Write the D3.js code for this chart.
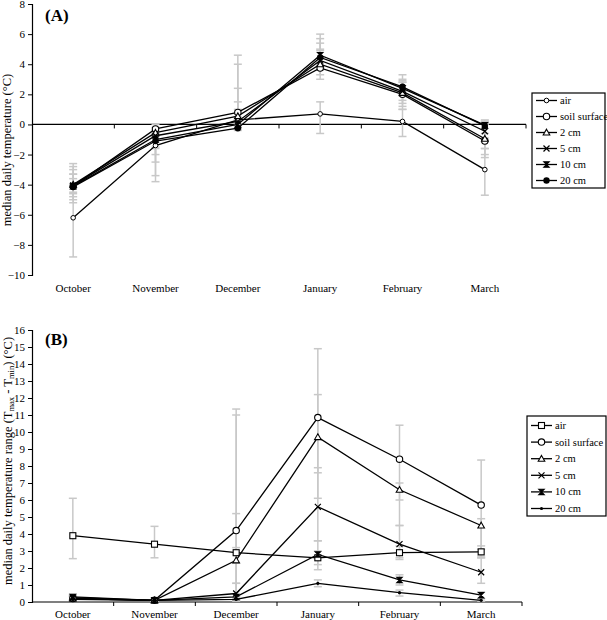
<!DOCTYPE html>
<html><head><meta charset="utf-8">
<script src="https://cdn.jsdelivr.net/npm/d3@7"></script>
<style>body{margin:0;background:#fff}svg{display:block}text{font-family:"Liberation Serif","Times New Roman",serif}</style>
</head><body>
<svg id="c" width="607" height="620"></svg>
<script>
const months = ["October","November","December","January","February","March"];
const seriesNames = ["air","soil surface","2 cm","5 cm","10 cm","20 cm"];
// Panel A: median daily temperature (°C)
const tempAir  = [-6.2,-1.4,0.3,0.7,0.2,-3.0];
const tempSoil = [-4.1,-0.3,0.8,3.75,2.0,-1.1];
const temp2cm  = [-4.0,-0.55,0.55,4.0,2.1,-0.95];
const temp5cm  = [-4.05,-0.75,0.2,4.25,2.2,-0.45];
const temp10cm = [-4.1,-1.0,0.0,4.6,2.4,-0.05];
const temp20cm = [-4.15,-1.1,-0.25,4.45,2.5,-0.1];
const tempErrLow  = [[-8.8,-3.8,-0.3,-0.6,-0.8,-4.7],[-5.2,-3.4,-0.2,3.0,1.0,-2.2],[-5.0,-2.5,0.0,3.3,1.2,-2.0],[-4.8,-2.0,-0.1,3.6,1.4,-1.6],[-4.6,-1.6,-0.3,3.9,1.6,-0.9],[-4.5,-1.5,-0.4,4.0,1.9,-0.6]];
const tempErrHigh = [[-3.3,-0.6,2.4,1.5,1.0,-1.6],[-2.6,0.0,4.6,6.0,3.3,0.3],[-2.8,-0.2,4.0,5.7,3.0,0.1],[-3.0,-0.4,1.5,5.4,2.8,0.0],[-3.3,-0.6,1.0,5.0,2.8,0.2],[-3.6,-0.8,0.5,4.9,2.9,0.2]];
const tempTicks = [8,6,4,2,0,-2,-4,-6,-8,-10];
// Panel B: median daily temperature range (°C)
const rangeAir  = [3.9,3.4,2.9,2.6,2.9,2.95];
const rangeSoil = [0.2,0.1,4.2,10.85,8.4,5.7];
const range2cm  = [0.2,0.1,2.45,9.7,6.6,4.5];
const range5cm  = [0.25,0.1,0.5,5.6,3.4,1.75];
const range10cm = [0.3,0.1,0.3,2.8,1.3,0.4];
const range20cm = [0.15,0.1,0.15,1.1,0.55,0.1];
const rangeErrLow  = [[2.55,2.6,2.3,2.2,2.5,2.6],[0.1,0.05,1.1,7.6,6.0,3.1],[0.1,0.05,0.3,6.1,4.5,2.7],[0.1,0.05,0.2,3.6,2.6,1.1],[0.1,0.05,0.1,1.9,1.0,0.2],[0.05,0.05,0.05,0.9,0.35,0.05]];
const rangeErrHigh = [[6.1,4.45,3.2,3.0,3.3,3.3],[0.4,0.15,11.35,14.9,10.4,8.35],[0.35,0.15,11.0,12.2,7.0,4.9],[0.35,0.15,5.2,7.9,4.5,2.6],[0.45,0.15,1.1,3.6,1.6,0.6],[0.3,0.15,0.3,1.3,0.7,0.2]];
const rangeTicks = d3.range(0,17);

const svg = d3.select("#c");
const FONT = "Liberation Serif";

function marker(g, type, x, y) {
  const m = g.append("g").attr("transform", `translate(${x},${y})`);
  if (type === "smallcircle") m.append("circle").attr("r",2.3).attr("fill","#fff").attr("stroke","#000").attr("stroke-width",1);
  else if (type === "circle") m.append("circle").attr("r",3.2).attr("fill","#fff").attr("stroke","#000").attr("stroke-width",1.1);
  else if (type === "square") m.append("rect").attr("x",-3).attr("y",-3).attr("width",6).attr("height",6).attr("fill","#fff").attr("stroke","#000").attr("stroke-width",1.1);
  else if (type === "triangle") m.append("path").attr("d","M0,-3.3L3.3,2.5L-3.3,2.5Z").attr("fill","#fff").attr("stroke","#000").attr("stroke-width",1.1);
  else if (type === "x") m.append("path").attr("d","M-3,-3L3,3M3,-3L-3,3").attr("stroke","#000").attr("stroke-width",1.2);
  else if (type === "hourglass") m.append("path").attr("d","M-2.7,-2.7L2.7,-2.7L-2.7,2.7L2.7,2.7Z").attr("fill","#000").attr("stroke","#000").attr("stroke-width",1.1);
  else if (type === "dotfill") m.append("circle").attr("r",3.2).attr("fill","#000");
  else if (type === "tinydot") m.append("circle").attr("r",1.6).attr("fill","#000");
  return m;
}

function panel(cfg) {
  const x = d3.scalePoint().domain(months).range([cfg.x0, cfg.x1]).padding(0.5);
  const y = d3.scaleLinear().domain(cfg.ydom).range(cfg.yrange);
  const g = svg.append("g");
  const ya = g.append("g").attr("transform",`translate(${cfg.x0},0)`)
    .call(d3.axisLeft(y).tickValues(cfg.ticks).tickSize(4).tickPadding(3).tickFormat(d3.format("d")));
  ya.select(".domain").attr("stroke","#000").attr("stroke-width",1.2);
  ya.selectAll("text").attr("font-family",FONT).attr("font-size",11).attr("fill","#000");
  const bandW = (cfg.x1 - cfg.x0)/months.length;
  const xa = g.append("g").attr("transform",`translate(0,${y(cfg.xAt)})`);
  xa.append("line").attr("x1",cfg.x0).attr("x2",cfg.x1).attr("stroke","#000").attr("stroke-width",1.2);
  months.forEach((m,i)=>{
    xa.append("line").attr("x1",cfg.x0+bandW*(i+1)).attr("x2",cfg.x0+bandW*(i+1)).attr("y1",0).attr("y2",4).attr("stroke","#000").attr("stroke-width",1);
    g.append("text").attr("x",x(m)).attr("y",cfg.labelY).attr("text-anchor","middle").attr("font-family",FONT).attr("font-size",11).text(m);
  });
  cfg.low.forEach((lo,si)=>{
    lo.forEach((l,i)=>{
      const h = cfg.high[si][i]; const cx = x(months[i]);
      g.append("line").attr("x1",cx).attr("x2",cx).attr("y1",y(l)).attr("y2",y(h)).attr("stroke","#c8c8c8").attr("stroke-width",1.5);
      [l,h].forEach(v=>g.append("line").attr("x1",cx-4).attr("x2",cx+4).attr("y1",y(v)).attr("y2",y(v)).attr("stroke","#c8c8c8").attr("stroke-width",1.5));
    });
  });
  const line = d3.line().x((d,i)=>x(months[i])).y(d=>y(d));
  cfg.series.forEach(s=>{
    g.append("path").datum(s).attr("d",line).attr("fill","none").attr("stroke","#000").attr("stroke-width",1.3);
  });
  cfg.series.forEach((s,si)=>{
    s.forEach((v,i)=>marker(g,cfg.markers[si],x(months[i]),y(v)));
  });
  g.append("text").attr("x",45).attr("y",cfg.labY).attr("font-family",FONT).attr("font-weight","bold").attr("font-size",17).text(cfg.label);
  const L = cfg.legend;
  const lg = g.append("g");
  lg.append("rect").attr("x",L.x).attr("y",L.y).attr("width",L.w).attr("height",L.h).attr("fill","#fff").attr("stroke","#000").attr("stroke-width",1.2);
  seriesNames.forEach((n,i)=>{
    const yy = L.y + L.first + i*L.step;
    lg.append("line").attr("x1",L.x+4).attr("x2",L.x+25).attr("y1",yy).attr("y2",yy).attr("stroke","#000").attr("stroke-width",1.3);
    marker(lg,cfg.markers[i],L.x+14.5,yy);
    lg.append("text").attr("x",L.x+28).attr("y",yy+3.5).attr("font-family",FONT).attr("font-size",10.5).text(n);
  });
  return g;
}

panel({x0:32,x1:526,ydom:[-10,8],yrange:[275,4],ticks:tempTicks,xAt:0,labelY:292,
  series:[tempAir,tempSoil,temp2cm,temp5cm,temp10cm,temp20cm],low:tempErrLow,high:tempErrHigh,
  markers:["smallcircle","circle","triangle","x","hourglass","dotfill"],label:"(A)",labY:21,
  legend:{x:532,y:93,w:73,h:95,first:7.5,step:16}});
panel({x0:32,x1:522,ydom:[0,16],yrange:[602,330],ticks:rangeTicks,xAt:0,labelY:618,
  series:[rangeAir,rangeSoil,range2cm,range5cm,range10cm,range20cm],low:rangeErrLow,high:rangeErrHigh,
  markers:["square","circle","triangle","x","hourglass","tinydot"],label:"(B)",labY:345,
  legend:{x:527,y:416,w:79,h:100,first:9.5,step:16.6}});

svg.append("text").attr("transform","translate(11,150) rotate(-90)").attr("text-anchor","middle")
  .attr("font-family",FONT).attr("font-size",12.5).text("median daily temperature (°C)");
const t = svg.append("text").attr("transform","translate(12,461) rotate(-90)").attr("text-anchor","middle")
  .attr("font-family",FONT).attr("font-size",12.5);
t.append("tspan").text("median daily temperature range (T");
t.append("tspan").attr("font-size",8.5).attr("dy",2).text("max");
t.append("tspan").attr("dy",-2).text(" - T");
t.append("tspan").attr("font-size",8.5).attr("dy",2).text("min");
t.append("tspan").attr("dy",-2).text(") (°C)");
</script>
</body></html>
